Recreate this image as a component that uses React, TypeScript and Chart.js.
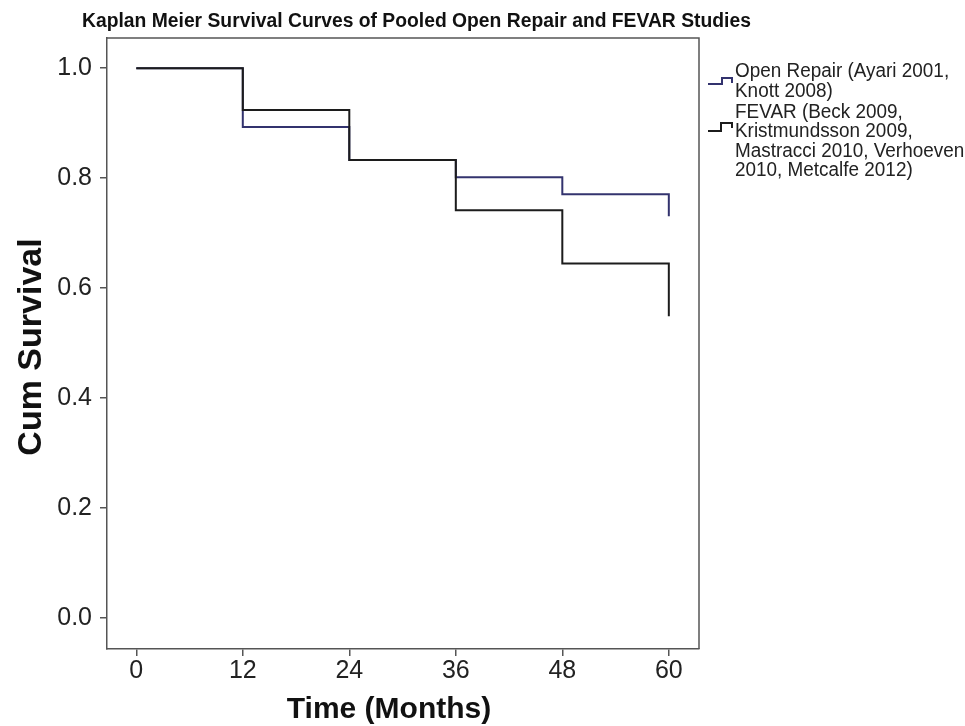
import React, { useEffect, useRef } from 'react';
import { Chart, registerables } from 'chart.js';

Chart.register(...registerables);

const months = [0, 12, 24, 36, 48, 60];
const openRepair = [1.0, 0.893, 0.833, 0.802, 0.771, 0.731];
const fevar = [1.0, 0.924, 0.833, 0.742, 0.645, 0.549];
const xTicks = [0, 12, 24, 36, 48, 60];
const yTicks = [0, 0.2, 0.4, 0.6, 0.8, 1.0];
const titleText = 'Kaplan Meier Survival Curves of Pooled Open Repair and FEVAR Studies';
const xTitle = 'Time (Months)';
const yTitle = 'Cum Survival';
const openLegend = ['Open Repair (Ayari 2001,', 'Knott 2008)'];
const fevarLegend = ['FEVAR (Beck 2009,', 'Kristmundsson 2009,', 'Mastracci 2010, Verhoeven', '2010, Metcalfe 2012)'];

const OPEN_COLOR = '#33336e';
const FEVAR_COLOR = '#1c1c1c';
const FRAME = '#555555';
const FONT = "'Liberation Sans', Arial, sans-serif";

const extrasPlugin = {
  id: 'extras',
  afterDraw(chart: any) {
    const { ctx, chartArea } = chart;
    ctx.save();
    // top & right frame
    ctx.strokeStyle = FRAME;
    ctx.lineWidth = 1.5;
    ctx.beginPath();
    ctx.moveTo(chartArea.left, chartArea.top);
    ctx.lineTo(chartArea.right, chartArea.top);
    ctx.lineTo(chartArea.right, chartArea.bottom);
    ctx.stroke();

    // title (slightly condensed)
    ctx.fillStyle = '#111';
    ctx.textAlign = 'left';
    ctx.textBaseline = 'alphabetic';
    ctx.save();
    ctx.translate(82, 27);
    ctx.scale(0.965, 1);
    ctx.font = `bold 20px ${FONT}`;
    ctx.fillText(titleText, 0, 0);
    ctx.restore();

    // axis titles
    ctx.font = `bold 30px ${FONT}`;
    ctx.textAlign = 'center';
    ctx.fillText(xTitle, 389, 718);
    ctx.save();
    ctx.translate(41, 347);
    ctx.rotate(-Math.PI / 2);
    ctx.font = `bold 34px ${FONT}`;
    ctx.fillText(yTitle, 0, 0);
    ctx.restore();

    // legend
    ctx.textAlign = 'left';
    ctx.fillStyle = '#222';
    const tx = 735;
    const lh = 19.6;
    const y0 = 77;
    const fy0 = 117.5;
    ctx.save();
    ctx.translate(tx, 0);
    ctx.scale(0.97, 1);
    ctx.font = `19.5px ${FONT}`;
    openLegend.forEach((t, i) => ctx.fillText(t, 0, y0 + i * lh));
    fevarLegend.forEach((t, i) => ctx.fillText(t, 0, fy0 + i * lh));
    ctx.restore();

    const icon = (yl: number, yh: number, xs: number, color: string) => {
      ctx.strokeStyle = color;
      ctx.lineWidth = 2;
      ctx.beginPath();
      ctx.moveTo(708, yl);
      ctx.lineTo(xs, yl);
      ctx.lineTo(xs, yh);
      ctx.lineTo(732, yh);
      ctx.lineTo(732, yh + 5);
      ctx.stroke();
    };
    icon(84, 78, 722, OPEN_COLOR);
    icon(131, 123, 721, FEVAR_COLOR);
    ctx.restore();
  },
};

export default function App() {
  const ref = useRef<HTMLCanvasElement | null>(null);
  useEffect(() => {
    if (!ref.current) return;
    const chart = new Chart(ref.current, {
      type: 'line',
      data: {
        datasets: [
          {
            label: 'FEVAR',
            data: months.map((m, i) => ({ x: m, y: fevar[i] })),
            borderColor: FEVAR_COLOR,
            borderWidth: 2,
            stepped: true,
            pointRadius: 0,
            fill: false,
          },
          {
            label: 'Open Repair',
            data: months.map((m, i) => ({ x: m, y: openRepair[i] })),
            borderColor: OPEN_COLOR,
            borderWidth: 2,
            stepped: true,
            pointRadius: 0,
            fill: false,
          },
        ],
      },
      options: {
        responsive: false,
        animation: false,
        layout: { padding: { left: 0, top: 38, right: 965 - 699, bottom: 0 } },
        plugins: { legend: { display: false }, tooltip: { enabled: false }, title: { display: false } },
        scales: {
          x: {
            type: 'linear',
            min: -3.3,
            max: 63.4,
            afterBuildTicks: (s: any) => {
              s.ticks = xTicks.map((v) => ({ value: v }));
            },
            afterFit: (s: any) => {
              s.height = 726 - 649;
            },
            grid: { display: true, drawOnChartArea: false, drawTicks: true, tickLength: 7, color: FRAME, lineWidth: 1.5 },
            border: { display: true, color: FRAME, width: 1.5 },
            ticks: { color: '#222', font: { family: FONT, size: 25 }, padding: 0, maxRotation: 0, autoSkip: false },
            title: { display: false },
          },
          y: {
            type: 'linear',
            min: -0.056,
            max: 1.055,
            afterBuildTicks: (s: any) => {
              s.ticks = yTicks.map((v) => ({ value: v }));
            },
            afterFit: (s: any) => {
              s.width = 107;
            },
            grid: { display: true, drawOnChartArea: false, drawTicks: true, tickLength: 7, color: FRAME, lineWidth: 1.5 },
            border: { display: true, color: FRAME, width: 1.5 },
            ticks: { color: '#222', font: { family: FONT, size: 25 }, padding: 8, callback: (v: any) => Number(v).toFixed(1) },
            title: { display: false },
          },
        },
      },
      plugins: [extrasPlugin],
    } as any);
    return () => chart.destroy();
  }, []);
  return (
    <div style={{ position: 'absolute', left: 0, top: 0, width: 965, height: 726, background: '#fff' }}>
      <canvas ref={ref} width={965} height={726} style={{ display: 'block' }} />
    </div>
  );
}
